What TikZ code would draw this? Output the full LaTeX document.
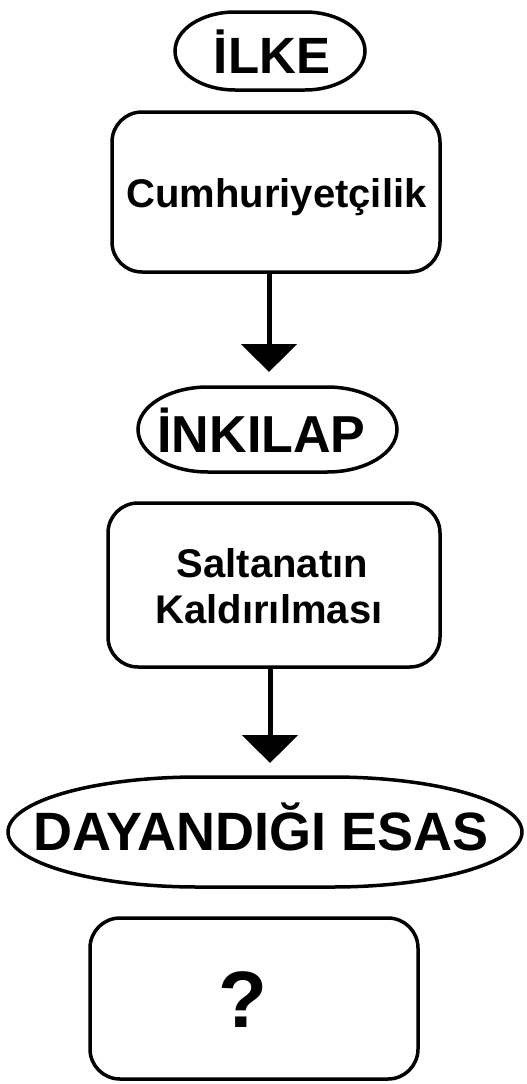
\documentclass[tikz,border=0pt]{standalone}
\usepackage{fontspec}
\setmainfont{Liberation Sans}
\usetikzlibrary{arrows.meta}
\newcommand\pillpath[3]{%
  \draw[outline] ([xshift=#2]#1.north west) -- ([xshift=-#2]#1.north east)
    arc[start angle=90, end angle=-90, x radius=#2, y radius=#3]
    -- ([xshift=#2]#1.south west)
    arc[start angle=270, end angle=90, x radius=#2, y radius=#3] -- cycle;}
\tikzset{
  outline/.style={draw=black, line width=3.5pt},
  frame/.style={rectangle, inner sep=0pt, outer sep=0pt},
  roundbox/.style={draw=black, line width=3.5pt, rounded corners=30pt, inner sep=0pt, outer sep=0pt},
  conn/.style={line width=5pt, -{Triangle[width=55pt,length=28pt]}},
  lbl/.style={anchor=base, inner sep=0pt},
}
\begin{document}
\begin{tikzpicture}[x=1pt,y=1pt]
\useasboundingbox (0,0) rectangle (527,-1084);

% ILKE
\node[frame, minimum width=190pt, minimum height=78pt] (ilke) at (270,-51) {};
\pillpath{ilke}{60pt}{39pt}
\node[lbl, font=\bfseries\fontsize{51}{51}\selectfont] (ilketxt) at (272,-73) {İLKE};

% box 1
\node[roundbox, minimum width=328pt, minimum height=160pt] (box1) at (276,-192) {};
\node[lbl, font=\bfseries\fontsize{40}{40}\selectfont] (box1txt) at (276.5,-207) {Cumhuriyetçilik};

% INKILAP
\node[frame, minimum width=259pt, minimum height=85pt] (inkilap) at (267.5,-429.5) {};
\pillpath{inkilap}{70pt}{42.5pt}
\node[lbl, font=\bfseries\fontsize{52}{52}\selectfont] (inkilaptxt) at (261.5,-452) {İNKILAP};

% box 2
\node[roundbox, minimum width=332pt, minimum height=164pt] (box2) at (274,-585) {};
\node[lbl, font=\bfseries\fontsize{40}{40}\selectfont] (box2txta) at (272.5,-577) {Saltanatın};
\node[lbl, font=\bfseries\fontsize{40}{40}\selectfont] (box2txtb) at (269,-623) {Kaldırılması};

% DAYANDIGI ESAS
\node[frame, minimum width=514pt, minimum height=110pt] (esas) at (265,-832) {};
\pillpath{esas}{190pt}{55pt}
\node[lbl, font=\bfseries\fontsize{54}{54}\selectfont] (esastxt) at (261,-850) {DAYANDIĞI ESAS};

% box 3
\node[roundbox, minimum width=328pt, minimum height=161pt] (box3) at (254,-998.5) {};
\node[lbl, font=\bfseries\fontsize{80}{80}\selectfont] (box3txt) at (243,-1027) {?};

% arrows
\coordinate (a1) at (269,-372);
\coordinate (a2) at (270,-763);
\draw[conn] (box1.south -| a1) -- (a1);
\draw[conn] (box2.south -| a2) -- (a2);
\end{tikzpicture}
\end{document}
